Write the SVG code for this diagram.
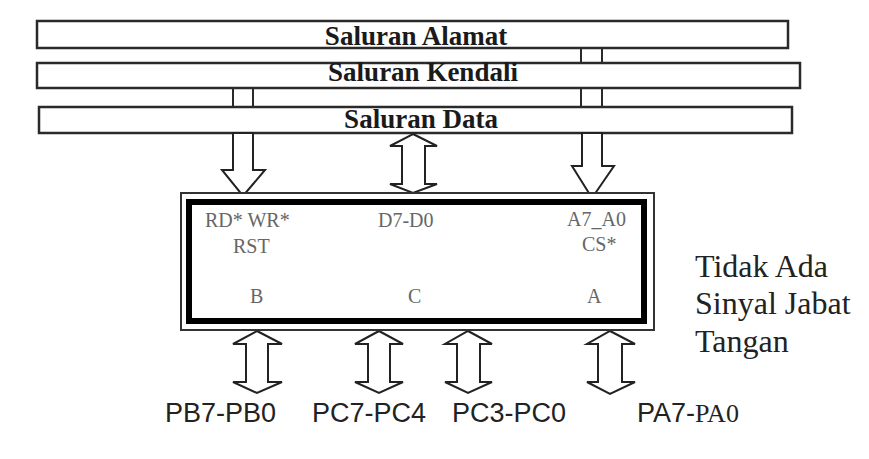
<svg xmlns="http://www.w3.org/2000/svg" width="869" height="459" viewBox="0 0 869 459">
  <style>
    .bus { fill: #fff; stroke: #2a2a2a; stroke-width: 2.5; }
    .bus-label { font-family: "Liberation Serif", "Times New Roman", serif; font-weight: bold; font-size: 27px; fill: #1a1a1a; text-anchor: middle; }
    .stub { stroke: #2a2a2a; stroke-width: 2; fill: none; }
    .arrow { fill: #fff; stroke: #222; stroke-width: 2; stroke-linejoin: miter; }
    .pin { font-family: "Liberation Serif", "Times New Roman", serif; font-size: 20px; fill: #666; }
    .port { font-family: "Liberation Sans", Arial, sans-serif; font-size: 27px; fill: #222; }
    .note { font-family: "Liberation Serif", "Times New Roman", serif; font-size: 32px; fill: #222; }
  </style>

  <rect width="869" height="459" fill="#fff"/>

  <!-- system buses -->
  <g id="bus-alamat">
    <rect class="bus" x="37" y="21" width="751" height="27"/>
    <text class="bus-label" x="416" y="45">Saluran Alamat</text>
  </g>
  <g id="bus-kendali">
    <rect class="bus" x="37" y="63" width="763" height="25"/>
    <text class="bus-label" x="423" y="81">Saluran Kendali</text>
  </g>
  <g id="bus-data">
    <rect class="bus" x="39" y="107" width="753" height="26"/>
    <text class="bus-label" x="421" y="128">Saluran Data</text>
  </g>

  <!-- bus taps and arrows -->
  <g id="connectors">
    <!-- taps between buses -->
    <line class="stub" x1="581" y1="48" x2="581" y2="63"/>
    <line class="stub" x1="602" y1="48" x2="602" y2="63"/>
    <line class="stub" x1="233" y1="88" x2="233" y2="107"/>
    <line class="stub" x1="253" y1="88" x2="253" y2="107"/>
    <line class="stub" x1="581" y1="88" x2="581" y2="107"/>
    <line class="stub" x1="602" y1="88" x2="602" y2="107"/>

    <!-- control lines into chip -->
    <polygon class="arrow" points="233,133 253,133 253,170 265,170 243,196 222,170 233,170"/>
    <!-- address lines into chip -->
    <polygon class="arrow" points="582,133 602,133 602,166 614,166 592,198 572,166 582,166"/>
    <!-- data bus, bidirectional -->
    <polygon class="arrow" points="413,134 437,146 425,146 425,184 437,184 413,193 390,184 402,184 402,146 390,146"/>

    <!-- port lines, bidirectional -->
    <polygon class="arrow" points="257,331 282,344 268,344 268,382 282,382 257,393 233,382 246,382 246,344 233,344"/>
    <polygon class="arrow" points="379,331 403,344 390,344 390,382 403,382 379,393 355,382 368,382 368,344 355,344"/>
    <polygon class="arrow" points="468,331 492,344 480,344 480,382 492,382 468,393 445,382 457,382 457,344 445,344"/>
    <polygon class="arrow" points="610,331 635,344 622,344 622,382 635,382 610,394 587,382 598,382 598,344 587,344"/>
  </g>

  <!-- PPI chip -->
  <g id="ppi">
    <rect x="181" y="193" width="473" height="137" fill="#fff" stroke="#333" stroke-width="2"/>
    <rect x="189" y="202" width="455" height="119" fill="#fff" stroke="#000" stroke-width="6"/>
    <text class="pin" x="205" y="227">RD* WR*</text>
    <text class="pin" x="233" y="253">RST</text>
    <text class="pin" x="378" y="227">D7-D0</text>
    <text class="pin" x="567" y="226">A7_A0</text>
    <text class="pin" x="582" y="251">CS*</text>
    <text class="pin" x="250" y="303">B</text>
    <text class="pin" x="408" y="303">C</text>
    <text class="pin" x="587" y="303">A</text>
  </g>

  <!-- port labels -->
  <g id="port-b"><text class="port" x="165" y="422">PB7-PB0</text></g>
  <g id="port-c-upper"><text class="port" x="312" y="422">PC7-PC4</text></g>
  <g id="port-c-lower"><text class="port" x="452" y="422">PC3-PC0</text></g>
  <g id="port-a"><text class="port" x="637" y="422">PA7-<tspan font-family="Liberation Serif, serif" font-size="26">PA0</tspan></text></g>

  <!-- side note -->
  <g id="note">
    <text class="note" x="695" y="277">Tidak Ada</text>
    <text class="note" x="695" y="314">Sinyal Jabat</text>
    <text class="note" x="695" y="352">Tangan</text>
  </g>
</svg>
